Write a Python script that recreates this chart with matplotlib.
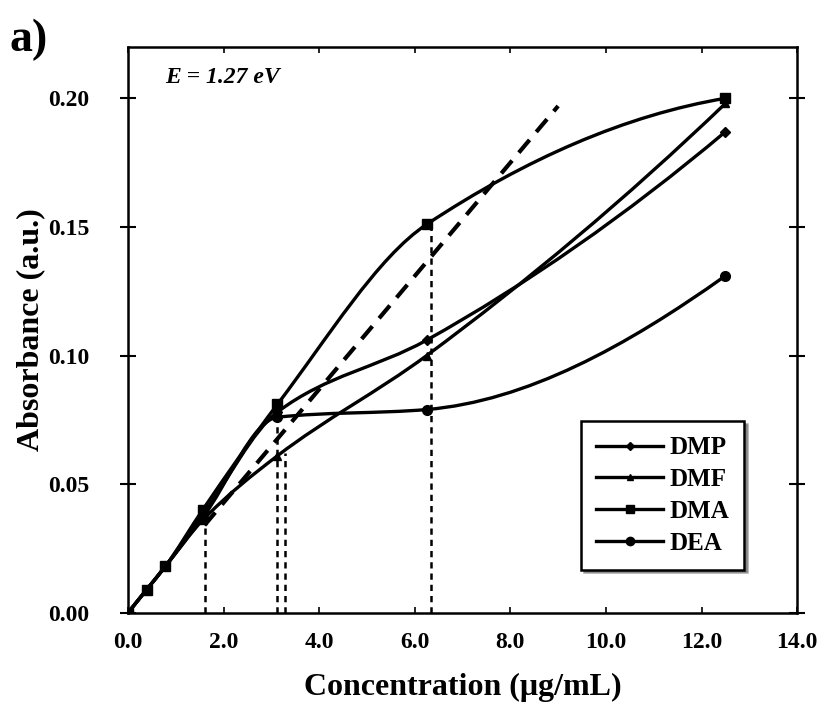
import matplotlib.pyplot as plt
import numpy as np
from matplotlib.path import Path
from matplotlib.patches import PathPatch
from matplotlib.lines import Line2D

conc = [0, 0.39, 0.78, 1.5625, 3.125, 6.25, 12.5]
dmp = [0, 0.009, 0.018, 0.038, 0.078, 0.106, 0.187]
dmf = [0, 0.009, 0.018, 0.036, 0.061, 0.100, 0.198]
dma = [0, 0.009, 0.018, 0.040, 0.081, 0.151, 0.200]
dea = [0, 0.009, 0.018, 0.037, 0.076, 0.079, 0.131]

fit_x = [1.6, 9.0]
fit_y = [0.034, 0.197]

drop_x = [1.62, 3.12, 3.28, 6.35]
drop_y = [0.035, 0.075, 0.062, 0.150]

names = ['DMP', 'DMF', 'DMA', 'DEA']
markers = ['D', '^', 's', 'o']
msizes = [5, 6, 7, 7]

plt.rcParams['font.family'] = ['Liberation Serif', 'DejaVu Serif']


def end_slope(h0, h1, d0, d1):
    m = ((2 * h0 + h1) * d0 - h0 * d1) / (h0 + h1)
    # keep a little slope at the ends, like the excel smoothing does
    if abs(m) < 0.4 * abs(d0) or np.sign(m) != np.sign(d0):
        m = 0.4 * d0
    return m


def smooth_path(x, y):
    # shape preserving smoothed line through every point, as bezier segments
    x = np.asarray(x, float)
    y = np.asarray(y, float)
    n = len(x)
    h = np.diff(x)
    d = np.diff(y) / h
    m = np.zeros(n)
    for i in range(1, n - 1):
        if d[i - 1] * d[i] > 0:
            w1 = 2 * h[i] + h[i - 1]
            w2 = h[i] + 2 * h[i - 1]
            m[i] = (w1 + w2) / (w1 / d[i - 1] + w2 / d[i])
    m[0] = end_slope(h[0], h[1], d[0], d[1])
    m[-1] = end_slope(h[-1], h[-2], d[-1], d[-2])
    verts = [(x[0], y[0])]
    codes = [Path.MOVETO]
    for i in range(n - 1):
        verts += [(x[i] + h[i] / 3, y[i] + m[i] * h[i] / 3),
                  (x[i + 1] - h[i] / 3, y[i + 1] - m[i + 1] * h[i] / 3),
                  (x[i + 1], y[i + 1])]
        codes += [Path.CURVE4] * 3
    return Path(verts, codes)


fig = plt.figure(figsize=(8.26, 7.10), dpi=100)
ax = fig.add_axes([0.155, 0.137, 0.81, 0.797])

for xv, yv in zip(drop_x, drop_y):
    ax.plot([xv, xv], [0, yv], color='black', lw=1.8, ls=(0, (2.5, 2)), zorder=2)

ax.plot(fit_x, fit_y, color='black', lw=3, ls=(0, (4, 2.5)), zorder=2)

series = [dmp, dmf, dma, dea]
for name, yv, mk, ms in zip(names, series, markers, msizes):
    ax.add_patch(PathPatch(smooth_path(conc, yv), facecolor='none',
                           edgecolor='black', lw=2.4, zorder=3))
    ax.plot(conc, yv, ls='none', marker=mk, ms=ms, color='black', zorder=4)

handles = [Line2D([], [], color='black', lw=2.4, marker=mk, ms=ms - 1)
           for mk, ms in zip(markers, msizes)]
leg = ax.legend(handles, names, loc='lower right', bbox_to_anchor=(0.94, 0.054),
                prop={'weight': 'bold', 'size': 18}, frameon=True, fancybox=False,
                shadow=True, edgecolor='black', handlelength=2.7, borderpad=0.6,
                labelspacing=0.35, handletextpad=0.25)
leg.get_frame().set_linewidth(1.8)

ax.set_xlim(0, 14)
ax.set_ylim(0, 0.22)
ax.set_xticks(np.arange(0, 14.1, 2))
ax.set_yticks(np.arange(0, 0.201, 0.05))
ax.set_xticklabels(['%.1f' % v for v in np.arange(0, 14.1, 2)])
ax.set_yticklabels(['%.2f' % v for v in np.arange(0, 0.201, 0.05)])
ax.tick_params(axis='y', direction='inout', length=12, width=1.5, labelsize=17, pad=22)
ax.tick_params(axis='x', direction='in', length=4, width=1.2, labelsize=17, pad=14)
ax.tick_params(right=True, top=True)
for lab in ax.get_xticklabels() + ax.get_yticklabels():
    lab.set_fontweight('bold')
for sp in ax.spines.values():
    sp.set_linewidth(1.8)

ax.set_xlabel('Concentration (μg/mL)', fontsize=23, fontweight='bold', labelpad=14)
ax.set_ylabel('Absorbance (a.u.)', fontsize=23, fontweight='bold', labelpad=2)

ax.text(0.055, 0.945, 'E = 1.27 eV', transform=ax.transAxes, fontsize=17,
        fontweight='bold', fontstyle='italic', va='center', ha='left')
fig.text(0.012, 0.944, 'a)', fontsize=33, fontweight='bold', va='center', ha='left')

fig.savefig('out.png', dpi=100)
